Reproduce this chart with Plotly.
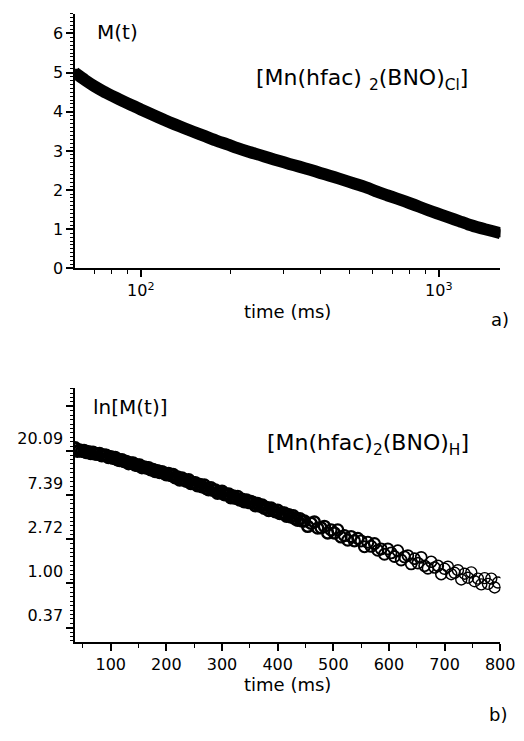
import plotly.graph_objects as go

# panel a) magnetisation decay, log time axis
t_a = [60, 65, 70, 75, 80, 85, 90, 95, 100, 110, 120, 130, 140, 150, 165, 180, 195, 210,
       230, 250, 270, 290, 315, 340, 370, 400, 430, 460, 500, 540, 580, 620, 670, 720,
       770, 830, 890, 950, 1020, 1090, 1170, 1250, 1340, 1430, 1520, 1610]
m_a = [5.00, 4.81, 4.65, 4.52, 4.41, 4.31, 4.22, 4.14, 4.06, 3.92, 3.79, 3.68, 3.58, 3.49,
       3.37, 3.26, 3.17, 3.08, 2.98, 2.90, 2.82, 2.75, 2.67, 2.60, 2.52, 2.44, 2.37, 2.30,
       2.21, 2.13, 2.05, 1.96, 1.87, 1.79, 1.71, 1.62, 1.53, 1.45, 1.37, 1.29, 1.21, 1.13,
       1.06, 1.00, 0.95, 0.90]

# panel b) ln M(t) against linear time
t_b = [36, 40, 44, 48, 52, 56, 60, 64, 68, 72, 76, 80, 84, 88, 92, 96, 100, 104, 108, 112,
       116, 120, 124, 128, 132, 136, 140, 144, 148, 152, 156, 160, 164, 168, 172, 176, 180,
       184, 188, 192, 196, 200, 204, 208, 212, 216, 220, 224, 228, 232, 236, 240, 244, 248,
       252, 256, 260, 264, 268, 272, 276, 280, 284, 288, 292, 296, 300, 304, 308, 312, 316,
       320, 324, 328, 332, 336, 340, 344, 348, 352, 356, 360, 364, 368, 372, 376, 380, 384,
       388, 392, 396, 400, 404, 408, 412, 416, 420, 424, 428, 432, 436, 440, 444, 448,
       454, 460, 466, 472, 478, 484, 490, 496, 502, 508, 514, 520, 526, 532, 538, 544, 550,
       556, 562, 568, 574, 580, 586, 592, 598, 604, 610, 616, 622, 628, 634, 640, 646, 652,
       658, 664, 670, 676, 682, 688, 694, 700, 706, 712, 718, 724, 730, 736, 742, 748, 754,
       760, 766, 772, 778, 784, 790, 796]
lnm_b = [3.06, 2.99, 3.01, 2.99, 3.00, 2.96, 2.97, 2.94, 2.96, 2.93, 2.92, 2.93, 2.89, 2.90,
         2.89, 2.85, 2.86, 2.83, 2.84, 2.80, 2.78, 2.79, 2.76, 2.75, 2.71, 2.72, 2.72, 2.68,
         2.67, 2.67, 2.62, 2.63, 2.61, 2.61, 2.57, 2.57, 2.53, 2.54, 2.51, 2.52, 2.49, 2.46,
         2.48, 2.44, 2.46, 2.39, 2.40, 2.34, 2.38, 2.34, 2.31, 2.34, 2.26, 2.27, 2.27, 2.21,
         2.23, 2.19, 2.22, 2.15, 2.12, 2.16, 2.11, 2.11, 2.04, 2.07, 2.08, 2.01, 2.01, 2.02,
         1.94, 1.97, 1.93, 1.96, 1.89, 1.90, 1.85, 1.88, 1.83, 1.85, 1.82, 1.76, 1.80, 1.75,
         1.77, 1.70, 1.71, 1.65, 1.70, 1.65, 1.62, 1.65, 1.58, 1.59, 1.59, 1.52, 1.55, 1.50,
         1.53, 1.46, 1.43, 1.46, 1.41, 1.41,
         1.29, 1.36, 1.39, 1.25, 1.26, 1.29, 1.14, 1.21, 1.14, 1.21, 1.05, 1.08, 0.98, 1.06,
         0.96, 1.02, 0.96, 0.83, 0.93, 0.84, 0.90, 0.75, 0.78, 0.66, 0.78, 0.69, 0.61, 0.74,
         0.53, 0.60, 0.63, 0.44, 0.56, 0.46, 0.59, 0.40, 0.34, 0.49, 0.36, 0.40, 0.21, 0.33,
         0.38, 0.21, 0.24, 0.30, 0.09, 0.22, 0.13, 0.25, 0.05, 0.11, -0.02, 0.12, -0.01, 0.11,
         -0.09, 0.02]

ln_ticks = [-1, 0, 1, 2, 3, 4]
ln_ticklabels = ["0.37", "1.00", "2.72", "7.39", "20.09", ""]
log_minor = [60, 70, 80, 90, 200, 300, 400, 500, 600, 700, 800, 900]

W, H = 524, 741
FONT = "DejaVu Sans"


def fx(x):
    return x / W


def fy(y):
    return 1 - y / H


axis_style = dict(
    showline=True, linecolor="black", linewidth=1.5, mirror=False,
    ticks="outside", ticklen=7, tickwidth=1.5, tickcolor="black",
    showgrid=False, zeroline=False,
    tickfont=dict(family=FONT, size=16, color="black"),
)

fig = go.Figure()

fig.add_trace(go.Scatter(
    x=t_a, y=m_a, mode="lines+markers",
    line=dict(color="black", width=12, shape="spline", smoothing=0.6),
    marker=dict(symbol="square", size=8, color="black"),
    xaxis="x", yaxis="y", showlegend=False,
))

# early points overlap densely in the scan; thin the rings out gradually
ring = [max(1.4, min(2.8, 2.8 - (t - 380) * 0.004)) for t in t_b]
fig.add_trace(go.Scatter(
    x=t_b, y=lnm_b, mode="markers",
    marker=dict(symbol="circle-open", size=11, color="black", line=dict(width=ring)),
    xaxis="x2", yaxis="y2", showlegend=False,
))

fig.update_layout(
    width=W, height=H,
    margin=dict(l=0, r=0, t=0, b=0, pad=0),
    paper_bgcolor="white", plot_bgcolor="white",
    font=dict(family=FONT, color="black"),
    xaxis=dict(
        axis_style, type="log", domain=[fx(69), fx(507)], anchor="y",
        range=[1.7792, 3.2068],
        tickvals=[100, 1000], ticktext=["10<sup>2</sup>", "10<sup>3</sup>"],
        minor=dict(tickvals=log_minor, ticks="outside", ticklen=4,
                   tickwidth=1.2, tickcolor="black"),
    ),
    yaxis=dict(
        axis_style, domain=[fy(264), fy(6)], anchor="x",
        range=[0, 6.5], tick0=0, dtick=1,
        minor=dict(dtick=0.1, tick0=0, ticks="outside", ticklen=3,
                   tickwidth=1, tickcolor="black"),
    ),
    xaxis2=dict(
        axis_style, domain=[fx(69), fx(507)], anchor="y2",
        range=[35.8, 800.5], tick0=0, dtick=100,
        minor=dict(dtick=50, tick0=0, ticks="outside", ticklen=4,
                   tickwidth=1.2, tickcolor="black"),
    ),
    yaxis2=dict(
        axis_style, domain=[fy(643), fy(385)], anchor="x2",
        range=[-1.33, 4.42],
        tickvals=ln_ticks, ticktext=ln_ticklabels, ticklabelshift=-12,
        minor=dict(dtick=0.1, tick0=0, ticks="outside", ticklen=3,
                   tickwidth=1, tickcolor="black"),
    ),
)


def label(text, x, y, size, xanchor="center"):
    fig.add_annotation(
        text=text, xref="paper", yref="paper", x=fx(x), y=fy(y),
        xanchor=xanchor, yanchor="middle", showarrow=False,
        font=dict(family=FONT, size=size, color="black"),
    )


label("M(t)", 90, 24, 20, "left")
label("[Mn(hfac) <sub>2</sub>(BNO)<sub>Cl</sub>]", 253, 72, 22, "left")
label("time (ms)", 288, 308, 18)
label("a)", 506, 316, 18)

label("ln[M(t)]", 85, 404, 20, "left")
label("[Mn(hfac)<sub>2</sub>(BNO)<sub>H</sub>]", 265, 442, 22, "left")
label("time (ms)", 288, 686, 18)
label("b)", 504, 716, 18)

fig.write_html("out.html")
